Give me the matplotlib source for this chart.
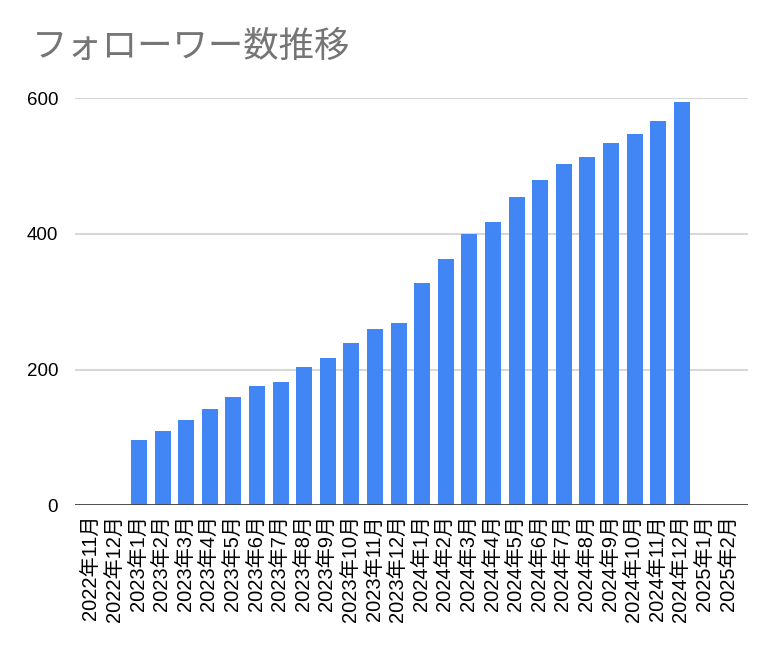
import matplotlib
matplotlib.use("Agg")
import matplotlib.pyplot as plt
import numpy as np

plt.rcParams['font.family'] = ['Liberation Sans', 'Noto Sans CJK JP', 'DejaVu Sans']

months = ['2022年11月', '2022年12月',
          '2023年1月', '2023年2月', '2023年3月', '2023年4月', '2023年5月', '2023年6月',
          '2023年7月', '2023年8月', '2023年9月', '2023年10月', '2023年11月', '2023年12月',
          '2024年1月', '2024年2月', '2024年3月', '2024年4月', '2024年5月', '2024年6月',
          '2024年7月', '2024年8月', '2024年9月', '2024年10月', '2024年11月', '2024年12月',
          '2025年1月', '2025年2月']
followers = [0, 0,
             96, 110, 126, 142, 160, 176, 182, 203, 217, 239, 259, 268,
             327, 363, 400, 418, 455, 479, 503, 513, 534, 547, 566, 595,
             0, 0]
y_ticks = [0, 200, 400, 600]


def main():
    fig = plt.figure(figsize=(7.64, 6.46), dpi=100)
    ax = fig.add_axes([0.098, 0.218, 0.881, 0.630])

    x = np.arange(len(months))
    vals = np.array(followers, dtype=float)
    vals[vals == 0] = np.nan
    ax.bar(x, vals, width=0.68, color='#4285F4', zorder=3)

    ax.set_xlim(-0.72, len(months) - 0.2)
    ax.set_ylim(0, 600)
    ax.set_yticks(y_ticks)
    ax.set_yticklabels([str(v) for v in y_ticks], fontsize=13.5)
    ax.set_xticks(x)
    ax.set_xticklabels(months, rotation=90, fontsize=14.5)
    ax.tick_params(length=0, pad=7)
    ax.tick_params(axis='y', pad=12)

    ax.grid(axis='y', color='#d0d0d0', linewidth=1.2, zorder=0)
    ax.axhline(0, color='#444444', linewidth=1.3, zorder=4)
    for s in ax.spines.values():
        s.set_visible(False)
    ax.set_axisbelow(True)

    fig.text(0.042, 0.928, 'フォローワー数推移', fontsize=25.5, color='#757575',
             va='center', ha='left', family=['Noto Sans CJK JP', 'DejaVu Sans'])

    fig.savefig('out.png', dpi=100)


if __name__ == "__main__":
    main()
